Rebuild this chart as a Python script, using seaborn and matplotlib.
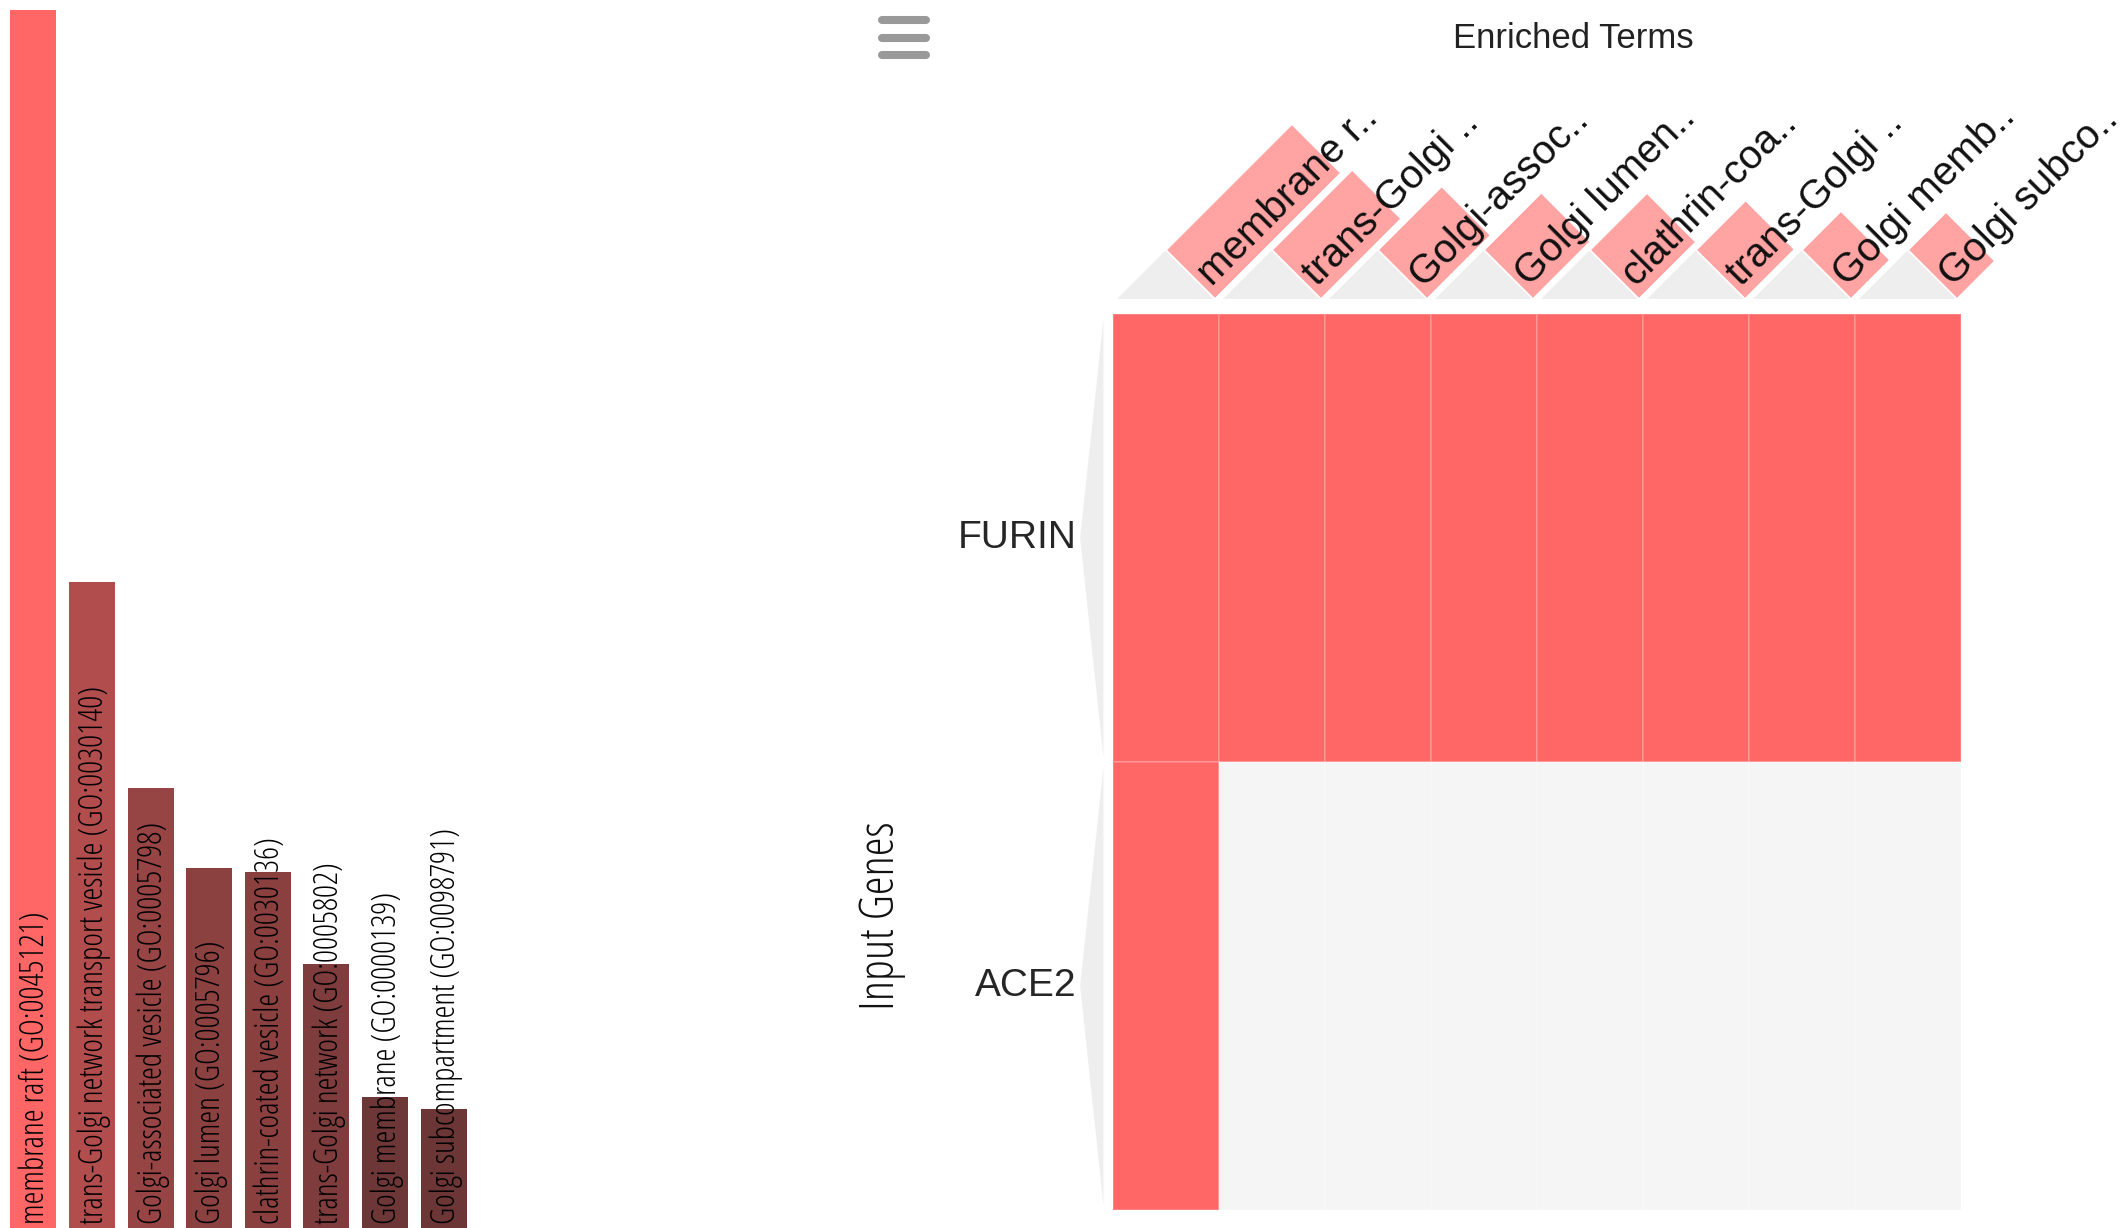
import numpy as np
import pandas as pd
import seaborn as sns
import matplotlib.pyplot as plt
from matplotlib.colors import LinearSegmentedColormap, ListedColormap, Normalize
from matplotlib.patches import Polygon

# Enriched GO cellular component terms
terms = [
    'membrane raft (GO:0045121)',
    'trans-Golgi network transport vesicle (GO:0030140)',
    'Golgi-associated vesicle (GO:0005798)',
    'Golgi lumen (GO:0005796)',
    'clathrin-coated vesicle (GO:0030136)',
    'trans-Golgi network (GO:0005802)',
    'Golgi membrane (GO:0000139)',
    'Golgi subcompartment (GO:0098791)',
]
short_terms = [
    'membrane r..', 'trans-Golgi ..', 'Golgi-assoc..', 'Golgi lumen..',
    'clathrin-coa..', 'trans-Golgi ..', 'Golgi memb..', 'Golgi subco..',
]
scores = [12.18, 6.46, 4.40, 3.60, 3.56, 2.64, 1.31, 1.19]

genes = ['FURIN', 'ACE2']
furin_hits = [1, 1, 1, 1, 1, 1, 1, 1]
ace2_hits = [1, 0, 0, 0, 0, 0, 0, 0]

W, H = 2124, 1228
NARROW = dict(family=['Open Sans', 'DejaVu Sans'], fontstretch='condensed',
              fontweight='normal')
ARIAL = ['Liberation Sans', 'DejaVu Sans']

sns.set_style('white')
plt.rcParams['font.family'] = ARIAL

fig = plt.figure(figsize=(W / 100, H / 100), dpi=100)
fig.patch.set_facecolor('white')


def box(left, top, right, bottom):
    # pixel box -> figure fraction rect
    return [left / W, 1 - bottom / H, (right - left) / W, (bottom - top) / H]


# ---- left: bar chart ----
ax_bar = fig.add_axes(box(4, 0, 473, H))
cmap = LinearSegmentedColormap.from_list('reds', ['#5C3131', '#FF6666'])
norm = Normalize(0, max(scores))
bar_colors = [cmap(norm(s)) for s in scores]
df = pd.DataFrame({'term': terms, 'score': scores})
sns.barplot(data=df, x='term', y='score', hue='term', palette=bar_colors,
            saturation=1, width=0.784, legend=False, ax=ax_bar, linewidth=0)
ax_bar.set_xlim(-0.5, len(terms) - 0.5)
ax_bar.set_ylim(0, max(scores) * H / 1218.5)
ax_bar.axis('off')
for i, t in enumerate(terms):
    ax_bar.text(i + 0.04, max(scores) * 4 / 1218.5, t, rotation=90, ha='center',
                va='bottom', fontsize=23.5, color='black', **NARROW)

# ---- right: heatmap ----
ax_hm = fig.add_axes(box(1113, 314, 1961, 1210))
mat = pd.DataFrame([furin_hits, ace2_hits], index=genes, columns=short_terms)
sns.heatmap(mat, ax=ax_hm, cmap=ListedColormap(['#F5F5F5', '#FF6666']),
            vmin=0, vmax=1, cbar=False, linewidths=1.2,
            linecolor=(1, 1, 1, 0.18), xticklabels=False)
ax_hm.tick_params(axis='y', length=0, pad=26, labelsize=28, rotation=0)
ax_hm.set_ylabel('')
# thin row wedges on the left
for r in range(len(genes)):
    ax_hm.add_patch(Polygon([(-0.09, r + 0.01), (-0.31, r + 0.5), (-0.09, r + 0.99)],
                            closed=True, facecolor='#EEEEEE', edgecolor='none',
                            clip_on=False))

fig.text(882 / W, 1 - 916 / H, 'Input Genes', rotation=90, ha='center',
         va='center', fontsize=34.5, color='#111111', **NARROW)

# ---- column header: triangles + score bars + labels ----
ax_hd = fig.add_axes(box(1113, 80, 1961, 299))
ax_hd.set_xlim(0, len(terms))
ax_hd.set_ylim(0, 219 / 106)
ax_hd.axis('off')
h0 = 0.4623
for i, (lab, s) in enumerate(zip(short_terms, scores)):
    ax_hd.add_patch(Polygon([(i + 0.0377, 0), (i + 0.5, h0), (i + 0.9623, 0)],
                            closed=True, facecolor='#EEEEEE', edgecolor='none'))
    e = (28.5 + 8 * s) / 106
    p1 = (i + 0.5, h0)
    p2 = (i + 0.9623, 0)
    ax_hd.add_patch(Polygon([p1, p2, (p2[0] + e, p2[1] + e), (p1[0] + e, p1[1] + e)],
                            closed=True, facecolor='#FFA3A3', edgecolor='white',
                            linewidth=1.2, clip_on=False))
    ax_hd.text(i + 0.731 + 0.119 + 0.08, 0.231 - 0.118, lab, rotation=45,
               rotation_mode='anchor', ha='left', va='baseline', fontsize=29,
               color='#111111', clip_on=False)

fig.text(1573 / W, 1 - 38 / H, 'Enriched Terms', ha='center', va='center',
         fontsize=25, color='#222222')

# hamburger menu icon
for yy in [20, 37.5, 55]:
    fig.add_artist(plt.Line2D([882 / W, 926 / W], [1 - yy / H, 1 - yy / H],
                              color='#999999', lw=5.8, solid_capstyle='round'))

fig.savefig('out.png', dpi=100, facecolor='white')
